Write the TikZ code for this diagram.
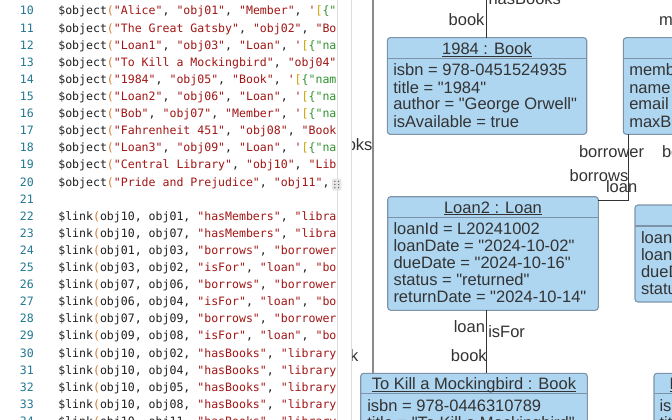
\documentclass[tikz,border=0pt]{standalone}
\usepackage{fontspec}
\newfontfamily\codefont{DejaVu Sans Mono}
\newfontfamily\diafont{Liberation Sans}
\definecolor{codetxt}{HTML}{1F1F1F}
\definecolor{cstr}{HTML}{A31515}
\definecolor{cparen}{HTML}{D8782A}
\definecolor{cbrack}{HTML}{C9A400}
\definecolor{cjson}{HTML}{319331}
\definecolor{lnum}{HTML}{237893}
\definecolor{boxfill}{HTML}{AED6F1}
\definecolor{boxline}{HTML}{7D94A8}
\definecolor{diatxt}{HTML}{333333}
\definecolor{panelline}{HTML}{DDDDDD}
\definecolor{selgray}{HTML}{8A8A8A}
\definecolor{iconbg}{HTML}{E6E6E6}
\definecolor{icondot}{HTML}{666666}
\newcommand\kstr[1]{\textcolor{cstr}{#1}}
\newcommand\kpar[1]{\textcolor{cparen}{#1}}
\newcommand\kjs[1]{\textcolor{cstr}{'}\textcolor{cbrack}{[}\textcolor{cjson}{#1}}
\newcommand\codeln[3]{\node[lineno] (n#1) at (33.8,#2) {#1}; \node[codeline] (c#1) at (58.3,#2) {#3};}
\begin{document}
\begin{tikzpicture}[x=1pt,y=-1pt,
  codeline/.style={anchor=base west, inner sep=0pt, outer sep=0pt, font=\codefont\fontsize{11.55}{14}\selectfont, text=codetxt},
  lineno/.style={anchor=base east, inner sep=0pt, outer sep=0pt, font=\codefont\fontsize{11.55}{14}\selectfont, text=lnum},
  objbox/.style={draw=boxline, fill=boxfill, line width=1.1pt, rounded corners=3pt, inner sep=0pt, outer sep=0pt, anchor=north west},
  dtext/.style={inner sep=0pt, outer sep=0pt, font=\diafont\fontsize{16.5}{19}\selectfont, text=diatxt},
  attr/.style={dtext, anchor=base west},
  hdr/.style={dtext, anchor=base},
  lblL/.style={dtext, anchor=base east},
  lblR/.style={dtext, anchor=base west},
  conn/.style={draw=diatxt, line width=1pt},
  selconn/.style={draw=selgray, line width=2pt},
  sepline/.style={draw=boxline, line width=1.1pt},
  uline/.style={draw=diatxt, line width=1pt},
]
\useasboundingbox (0,0) rectangle (672,420);
\fill[white] (0,0) rectangle (672,420);

% ---------- code editor ----------
\begin{scope}
\clip (0,0) rectangle (337,420);
\codeln{10}{15}{\$object\kpar{(}\kstr{"Alice"}, \kstr{"obj01"}, \kstr{"Member"}, \kjs{\{"}}
\codeln{11}{32.1}{\$object\kpar{(}\kstr{"The Great Gatsby"}, \kstr{"obj02"}, \kstr{"Bo}}
\codeln{12}{49.2}{\$object\kpar{(}\kstr{"Loan1"}, \kstr{"obj03"}, \kstr{"Loan"}, \kjs{\{"na}}
\codeln{13}{66.3}{\$object\kpar{(}\kstr{"To Kill a Mockingbird"}, \kstr{"obj04"}}
\codeln{14}{83.4}{\$object\kpar{(}\kstr{"1984"}, \kstr{"obj05"}, \kstr{"Book"}, \kjs{\{"nam}}
\codeln{15}{100.5}{\$object\kpar{(}\kstr{"Loan2"}, \kstr{"obj06"}, \kstr{"Loan"}, \kjs{\{"na}}
\codeln{16}{117.6}{\$object\kpar{(}\kstr{"Bob"}, \kstr{"obj07"}, \kstr{"Member"}, \kjs{\{"na}}
\codeln{17}{134.7}{\$object\kpar{(}\kstr{"Fahrenheit 451"}, \kstr{"obj08"}, \kstr{"Book}}
\codeln{18}{151.8}{\$object\kpar{(}\kstr{"Loan3"}, \kstr{"obj09"}, \kstr{"Loan"}, \kjs{\{"na}}
\codeln{19}{168.9}{\$object\kpar{(}\kstr{"Central Library"}, \kstr{"obj10"}, \kstr{"Lib}}
\codeln{20}{186.0}{\$object\kpar{(}\kstr{"Pride and Prejudice"}, \kstr{"obj11"},}
\node[lineno] (n21) at (33.8,203.1) {21};
\codeln{22}{220.2}{\$link\kpar{(}obj10, obj01, \kstr{"hasMembers"}, \kstr{"libra}}
\codeln{23}{237.3}{\$link\kpar{(}obj10, obj07, \kstr{"hasMembers"}, \kstr{"libra}}
\codeln{24}{254.4}{\$link\kpar{(}obj01, obj03, \kstr{"borrows"}, \kstr{"borrower}}
\codeln{25}{271.5}{\$link\kpar{(}obj03, obj02, \kstr{"isFor"}, \kstr{"loan"}, \kstr{"bo}}
\codeln{26}{288.6}{\$link\kpar{(}obj07, obj06, \kstr{"borrows"}, \kstr{"borrower}}
\codeln{27}{305.7}{\$link\kpar{(}obj06, obj04, \kstr{"isFor"}, \kstr{"loan"}, \kstr{"bo}}
\codeln{28}{322.8}{\$link\kpar{(}obj07, obj09, \kstr{"borrows"}, \kstr{"borrower}}
\codeln{29}{339.9}{\$link\kpar{(}obj09, obj08, \kstr{"isFor"}, \kstr{"loan"}, \kstr{"bo}}
\codeln{30}{357.0}{\$link\kpar{(}obj10, obj02, \kstr{"hasBooks"}, \kstr{"library}}
\codeln{31}{374.1}{\$link\kpar{(}obj10, obj04, \kstr{"hasBooks"}, \kstr{"library}}
\codeln{32}{391.2}{\$link\kpar{(}obj10, obj05, \kstr{"hasBooks"}, \kstr{"library}}
\codeln{33}{408.3}{\$link\kpar{(}obj10, obj08, \kstr{"hasBooks"}, \kstr{"library}}
\codeln{34}{425.4}{\$link\kpar{(}obj10, obj11, \kstr{"hasBooks"}, \kstr{"library}}
\end{scope}

% panel borders
\draw[panelline, line width=1pt] (337,0) -- (337,420);
\draw[panelline, line width=1pt] (351.5,0) -- (351.5,420);

% fold icon on line 20
\node[draw=none, fill=iconbg, rounded corners=1.5pt, minimum width=9.5pt, minimum height=12pt, inner sep=0pt, outer sep=0pt] (icon) at (336.7,184.5) {};
\foreach \dx in {-1.8,1.8}{\foreach \dy in {-3.2,0,3.2}{\fill[icondot] ([xshift=\dx pt,yshift=\dy pt]icon.center) circle (0.75pt);}}

% ---------- diagram ----------
\begin{scope}
\clip (352,0) rectangle (672,420);

% boxes
\node[objbox, minimum width=199.4pt, minimum height=96.6pt] (b1984) at (387.3,37.7) {};
\draw[sepline] ([yshift=-20.6pt]b1984.north west) -- ([yshift=-20.6pt]b1984.north east);
\node[objbox, minimum width=220pt, minimum height=96.6pt] (bbob) at (623.3,37.7) {};
\draw[sepline] ([yshift=-20.6pt]bbob.north west) -- ([yshift=-20.6pt]bbob.north east);
\node[objbox, minimum width=210.6pt, minimum height=113.6pt] (bloan2) at (387.7,196.7) {};
\draw[sepline] ([yshift=-20.6pt]bloan2.north west) -- ([yshift=-20.6pt]bloan2.north east);
\node[objbox, minimum width=210pt, minimum height=97pt] (bloan3) at (635,205) {};
\draw[sepline] ([yshift=-21pt]bloan3.north west) -- ([yshift=-21pt]bloan3.north east);
\node[objbox, minimum width=226.6pt, minimum height=100pt] (bmock) at (360.7,373.3) {};
\draw[sepline] ([yshift=-20pt]bmock.north west) -- ([yshift=-20pt]bmock.north east);
\node[objbox, minimum width=220pt, minimum height=100pt] (bfahr) at (654,373.3) {};
\draw[sepline] ([yshift=-20pt]bfahr.north west) -- ([yshift=-20pt]bfahr.north east);

% headers
\node[hdr] (h1984) at (487,54.5) {1984 : Book};
\draw[uline] ([yshift=-1.8pt]h1984.base west) -- ([yshift=-1.8pt]h1984.base east);
\node[hdr] (hloan2) at (493,213) {Loan2 : Loan};
\draw[uline] ([yshift=-1.8pt]hloan2.base west) -- ([yshift=-1.8pt]hloan2.base east);
\node[hdr] (hmock) at (474,389.5) {To Kill a Mockingbird : Book};
\draw[uline] ([yshift=-1.8pt]hmock.base west) -- ([yshift=-1.8pt]hmock.base east);
\node[attr] (hfahr) at (669.5,389.5) {Fahrenheit};
\draw[uline] ([yshift=-1.8pt]hfahr.base west) -- ([yshift=-1.8pt]hfahr.base east);

% attributes
\node[attr] (a1) at (393.3,76) {isbn = 978-0451524935};
\node[attr] (a2) at (393.3,93) {title = "1984"};
\node[attr] (a3) at (393.3,110) {author = "George Orwell"};
\node[attr] (a4) at (393.3,127) {isAvailable = true};

\node[attr] (m1) at (629.3,76) {memberId};
\node[attr] (m2) at (629.3,93) {name};
\node[attr] (m3) at (629.3,110) {email};
\node[attr] (m4) at (629.3,127) {maxBooks};

\node[attr] (l1) at (393.5,234) {loanId = L20241002};
\node[attr] (l2) at (393.5,251) {loanDate = "2024-10-02"};
\node[attr] (l3) at (393.5,268) {dueDate = "2024-10-16"};
\node[attr] (l4) at (393.5,285) {status = "returned"};
\node[attr] (l5) at (393.5,302) {returnDate = "2024-10-14"};

\node[attr] (k1) at (641,243.5) {loanId};
\node[attr] (k2) at (641,260.5) {loanDate};
\node[attr] (k3) at (641,277.5) {dueDate};
\node[attr] (k4) at (641,294.5) {status};

\node[attr] (t1) at (367.3,411) {isbn = 978-0446310789};
\node[attr] (t2) at (367.3,428) {title = "To Kill a Mockingbird"};

\node[attr] (f1) at (659.5,411) {isbn};
\node[attr] (f2) at (659.5,428) {title};

% connectors
\coordinate (topA) at (373,-5);
\draw[selconn] (topA) -- (topA |- bmock.north);
\coordinate (topB) at (486.5,-5);
\draw[conn] (topB) -- (topB |- b1984.north);
\coordinate (bend) at (628,200.7);
\draw[conn] (bend |- bbob.south) -- (bend) -- (bend -| bloan2.east);
\coordinate (xc) at (486.7,0);
\draw[conn] (xc |- bloan2.south) -- (xc |- bmock.north);

% connector labels
\node[lblL] (lb1) at (484.5,26) {book};
\node[lblR] (lb2) at (488.5,5) {hasBooks};
\node[lblL] (lb3) at (372.5,150) {hasBooks};
\node[lblR] (lb4) at (579,157) {borrower};
\node[lblR] (lb5) at (662,157) {borrower};
\node[lblL] (lb6) at (628.3,181) {borrows};
\node[lblR] (lb7) at (606,192.5) {loan};
\node[lblR] (lb8) at (659,26) {members};
\node[lblL] (lb9) at (485,332.5) {loan};
\node[lblR] (lb10) at (488.3,337) {isFor};
\node[lblL] (lb11) at (486.7,361) {book};
\node[lblL] (lb12) at (358.3,361) {book};
\end{scope}
\end{tikzpicture}
\end{document}
